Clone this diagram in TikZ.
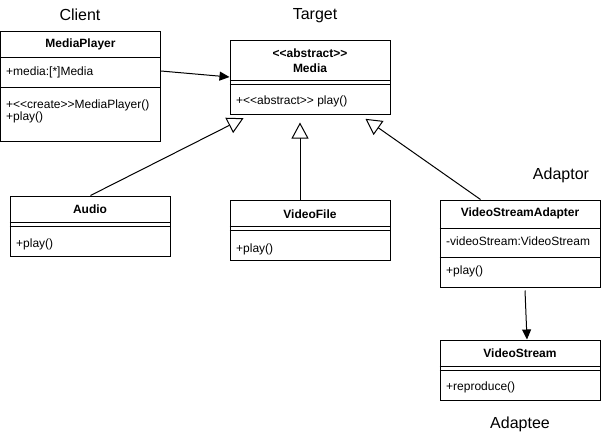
\documentclass[tikz,border=0pt]{standalone}
\usepackage{fontspec}
\setmainfont{Liberation Sans}
\usetikzlibrary{arrows.meta,calc}
\newcommand\umlopen{<\kern0pt<}
\newcommand\umlclose{>\kern0pt>}
\begin{document}
\begin{tikzpicture}[x=1pt,y=-1pt,
  classbox/.style={draw=black, line width=1pt, fill=white, inner sep=0pt, minimum width=160pt},
  classtitle/.style={font=\fontsize{12}{14}\selectfont\bfseries, inner sep=0pt},
  member/.style={font=\fontsize{12}{14}\selectfont, anchor=west, inner sep=0pt},
  rolelabel/.style={font=\fontsize{16}{19}\selectfont, inner sep=0pt},
  sepline/.style={line width=1pt},
  assoc/.style={line width=1pt, -{Triangle[length=10pt,width=9pt]}},
  gen/.style={line width=1pt, -{Triangle[open,length=16pt,width=17pt,fill=white]}}
]
\useasboundingbox (0,0) rectangle (602,440);

% role labels
\node[rolelabel] (lclient) at (80,15) {Client};
\node[rolelabel] (ltarget) at (315,16) {Target};
\node[rolelabel] (ladaptor) at (561,175) {Adaptor};
\node[rolelabel] (ladaptee) at (520,424) {Adaptee};

% MediaPlayer
\node[classbox, minimum height=110pt] (mp) at (80.5,86) {};
\node[classtitle] (mpt) at (80.5,44) {MediaPlayer};
\draw[sepline] (mp.west |- 0,57) -- (mp.east |- 0,57);
\draw[sepline] (mp.west |- 0,87) -- (mp.east |- 0,87);
\node[member] (mpa) at (6,72) {+media:[*]Media};
\node[member] (mpm1) at (6,105) {+\umlopen create\umlclose MediaPlayer()};
\node[member] (mpm2) at (6,117) {+play()};

% Media
\node[classbox, minimum height=74pt] (media) at (310,77) {};
\node[classtitle] (mediat1) at (310,53) {\umlopen abstract\umlclose};
\node[classtitle] (mediat2) at (310,68) {Media};
\draw[sepline] (media.west |- 0,80) -- (media.east |- 0,80);
\draw[sepline] (media.west |- 0,84) -- (media.east |- 0,84);
\node[member] (mediam) at (236,101.5) {+\umlopen abstract\umlclose{} play()};

% Audio
\node[classbox, minimum height=60pt] (audio) at (90,226) {};
\node[classtitle] (audiot) at (90,209) {Audio};
\draw[sepline] (audio.west |- 0,222) -- (audio.east |- 0,222);
\draw[sepline] (audio.west |- 0,226) -- (audio.east |- 0,226);
\node[member] (audiom) at (16,244) {+play()};

% VideoFile
\node[classbox, minimum height=60pt] (vf) at (310,230) {};
\node[classtitle] (vft) at (310,214) {VideoFile};
\draw[sepline] (vf.west |- 0,226.5) -- (vf.east |- 0,226.5);
\draw[sepline] (vf.west |- 0,230.5) -- (vf.east |- 0,230.5);
\node[member] (vfm) at (236,249) {+play()};

% VideoStreamAdapter
\node[classbox, minimum height=87pt] (adapter) at (520,243.5) {};
\node[classtitle] (adaptert) at (520,213) {VideoStreamAdapter};
\draw[sepline] (adapter.west |- 0,228) -- (adapter.east |- 0,228);
\draw[sepline] (adapter.west |- 0,257) -- (adapter.east |- 0,257);
\node[member] (adaptera) at (446,241) {-videoStream:VideoStream};
\node[member] (adapterm) at (446,271) {+play()};

% VideoStream
\node[classbox, minimum height=60pt] (vs) at (520,370) {};
\node[classtitle] (vst) at (520,353) {VideoStream};
\draw[sepline] (vs.west |- 0,366) -- (vs.east |- 0,366);
\draw[sepline] (vs.west |- 0,370) -- (vs.east |- 0,370);
\node[member] (vsm) at (446,387.5) {+reproduce()};

% connectors
\draw[assoc] (mp.east |- 0,71) -- (media.west |- 0,77);
\draw[gen] ([xshift=81pt]audio.north west) -- ([xshift=14pt,yshift=-3.7pt]media.south west);
\draw[gen] ([xshift=-10pt]vf.north) -- ([xshift=-10pt,yshift=-8pt]media.south);
\draw[gen] ([xshift=41pt]adapter.north west) -- ([xshift=-25pt,yshift=-4.3pt]media.south east);
\draw[assoc] ([xshift=5pt,yshift=-3pt]adapter.south) -- ([xshift=7pt]vs.north);
\end{tikzpicture}
\end{document}
